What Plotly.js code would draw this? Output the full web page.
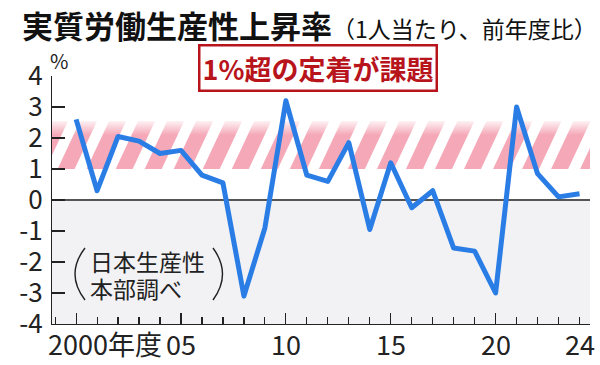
<!DOCTYPE html>
<html>
<head>
<meta charset="utf-8">
<script src="https://cdn.plot.ly/plotly-3.0.1.min.js"></script>
<style>
  html, body { margin: 0; padding: 0; background: #fff; }
  #chart { width: 600px; height: 365px; }
  .scatterlayer .js-line { stroke-linejoin: round !important; }
</style>
</head>
<body>
<div id="chart"></div>
<script>
// ---- data ----
const years = [2000,2001,2002,2003,2004,2005,2006,2007,2008,2009,2010,2011,2012,
               2013,2014,2015,2016,2017,2018,2019,2020,2021,2022,2023,2024];
const growth = [2.6,0.3,2.05,1.9,1.5,1.6,0.8,0.55,-3.1,-0.9,3.2,0.8,0.6,
                1.85,-0.95,1.2,-0.25,0.3,-1.55,-1.65,-3.0,3.0,0.85,0.1,0.2];
const majorTickYears = [2000,2005,2010,2015,2020];
const xLabelVals = [2005,2010,2015,2020,2024];
const xLabelText = ['05','10','15','20','24'];
const firstXLabel = '2000年度';
const yTickVals = [-4,-3,-2,-1,0,1,2,3,4];
const yTickText = ['-4','-3','-2','-1','0','1','2','3','4'];
const targetBand = [1, 2.55];
const titleMain = '実質労働生産性上昇率';
const titleSub = '（1人当たり、前年度比）';
const callout = '1%超の定着が課題';
const sourceLines = ['日本生産性', '本部調べ'];
const unitLabel = '%';

// ---- layout helpers (pixel -> paper) ----
const W = 600, H = 365, M = {l: 52, r: 10, t: 76, b: 41};
const PW = W - M.l - M.r, PH = H - M.t - M.b;
const px = x => (x - M.l) / PW;
const py = y => (H - M.b - y) / PH;
const FONT = '"Noto Sans CJK JP", "Noto Sans", sans-serif';
const xRange = [1998.85, 2024.5];

const shapes = [];
shapes.push({type: 'rect', xref: 'paper', yref: 'y', x0: 0, x1: 1, y0: -4, y1: 0,
  fillcolor: '#f2f2f5', line: {width: 0}, layer: 'below'});
// hatch stripes for the target band
const pitch = 1.384, sw = 0.81, shift = 1.07;
for (let x0 = xRange[0] - 2.5; x0 < xRange[1] + 1; x0 += pitch) {
  shapes.push({type: 'path', xref: 'x', yref: 'y', layer: 'below',
    path: `M ${x0},${targetBand[0]} L ${x0 + sw},${targetBand[0]} L ${x0 + sw + shift},${targetBand[1]} L ${x0 + shift},${targetBand[1]} Z`,
    fillcolor: '#f5a9b8', line: {width: 0}});
}
// parentheses around source note
const parenStroke = {color: '#222', width: 1.4};
shapes.push({type: 'path', xref: 'paper', yref: 'paper', layer: 'above',
  path: `M ${px(85)},${py(248)} Q ${px(65)},${py(274)} ${px(85)},${py(300)}`, line: parenStroke});
shapes.push({type: 'path', xref: 'paper', yref: 'paper', layer: 'above',
  path: `M ${px(213)},${py(248)} Q ${px(232)},${py(274)} ${px(213)},${py(300)}`, line: parenStroke});

const traces = [
  { // fade on top of band
    x: [xRange[0]-1, xRange[1]+1, xRange[1]+1, xRange[0]-1], y: [2.1, 2.1, 2.6, 2.6],
    mode: 'none', fill: 'toself', hoverinfo: 'skip', showlegend: false,
    fillgradient: {type: 'vertical', start: 2.1, stop: 2.6,
      colorscale: [[0, 'rgba(255,255,255,0)'], [1, 'rgba(255,255,255,0.95)']]}
  },
  {
    x: years, y: growth, mode: 'lines', showlegend: false,
    line: {color: '#2b7de6', width: 5}
  }
];

const labelFont = {family: FONT, size: 27, color: '#222'};
const annotations = [
  {text: unitLabel, xref: 'paper', yref: 'paper', x: px(59), y: py(60), xanchor: 'center', yanchor: 'middle',
   showarrow: false, font: {family: FONT, size: 20, color: '#222'}},
  {text: '<b>' + callout + '</b>', xref: 'paper', yref: 'paper', x: px(317.5), y: py(68),
   xanchor: 'center', yanchor: 'middle', showarrow: false,
   font: {family: FONT, size: 27, color: '#b8141c'}, bordercolor: '#b8141c', borderwidth: 2.5,
   borderpad: 2, bgcolor: '#fff'},
  {text: sourceLines[0], xref: 'paper', yref: 'paper', x: px(88), y: py(260.5), xanchor: 'left', yanchor: 'middle',
   showarrow: false, font: {family: FONT, size: 23, color: '#222'}},
  {text: sourceLines[1], xref: 'paper', yref: 'paper', x: px(88), y: py(288), xanchor: 'left', yanchor: 'middle',
   showarrow: false, font: {family: FONT, size: 23, color: '#222'}},
  {text: firstXLabel, xref: 'paper', yref: 'paper', x: px(46), y: py(343), xanchor: 'left', yanchor: 'middle',
   showarrow: false, font: labelFont}
];
xLabelVals.forEach((v, i) => annotations.push({
  text: xLabelText[i], xref: 'x', yref: 'paper', x: v, y: py(343), xanchor: 'center', yanchor: 'middle',
  showarrow: false, font: labelFont
}));

const layout = {
  width: W, height: H, margin: M,
  paper_bgcolor: '#fff', plot_bgcolor: 'rgba(0,0,0,0)',
  font: {family: FONT, color: '#222'},
  title: {
    text: '<b>' + titleMain + '</b><span style="font-size:23px">' + titleSub + '</span>',
    font: {family: FONT, size: 31, color: '#111'},
    xref: 'container', yref: 'container', x: 22 / W, xanchor: 'left', y: 1 - 27 / H, yanchor: 'middle'
  },
  xaxis: {
    range: xRange, showgrid: false, zeroline: false, showline: true, linecolor: '#222', linewidth: 1.2,
    tickmode: 'array', tickvals: majorTickYears, ticks: 'inside', ticklen: 11, tickcolor: '#222', tickwidth: 1.2,
    showticklabels: false,
    minor: {ticks: 'inside', ticklen: 7, dtick: 1, tick0: 2000, tickcolor: '#222', tickwidth: 1.2, showgrid: false}
  },
  yaxis: {
    range: [-4, 4], showgrid: false, showline: true, linecolor: '#222', linewidth: 1.2,
    zeroline: true, zerolinecolor: '#555', zerolinewidth: 1.6,
    tickmode: 'array', tickvals: yTickVals, ticktext: yTickText, ticks: 'inside', ticklen: 13,
    tickcolor: '#222', tickwidth: 1.2, ticklabelstandoff: 3,
    tickfont: {family: FONT, size: 26, color: '#222'}
  },
  shapes: shapes,
  annotations: annotations
};

Plotly.newPlot('chart', traces, layout, {displayModeBar: false, staticPlot: true});
</script>
</body>
</html>
